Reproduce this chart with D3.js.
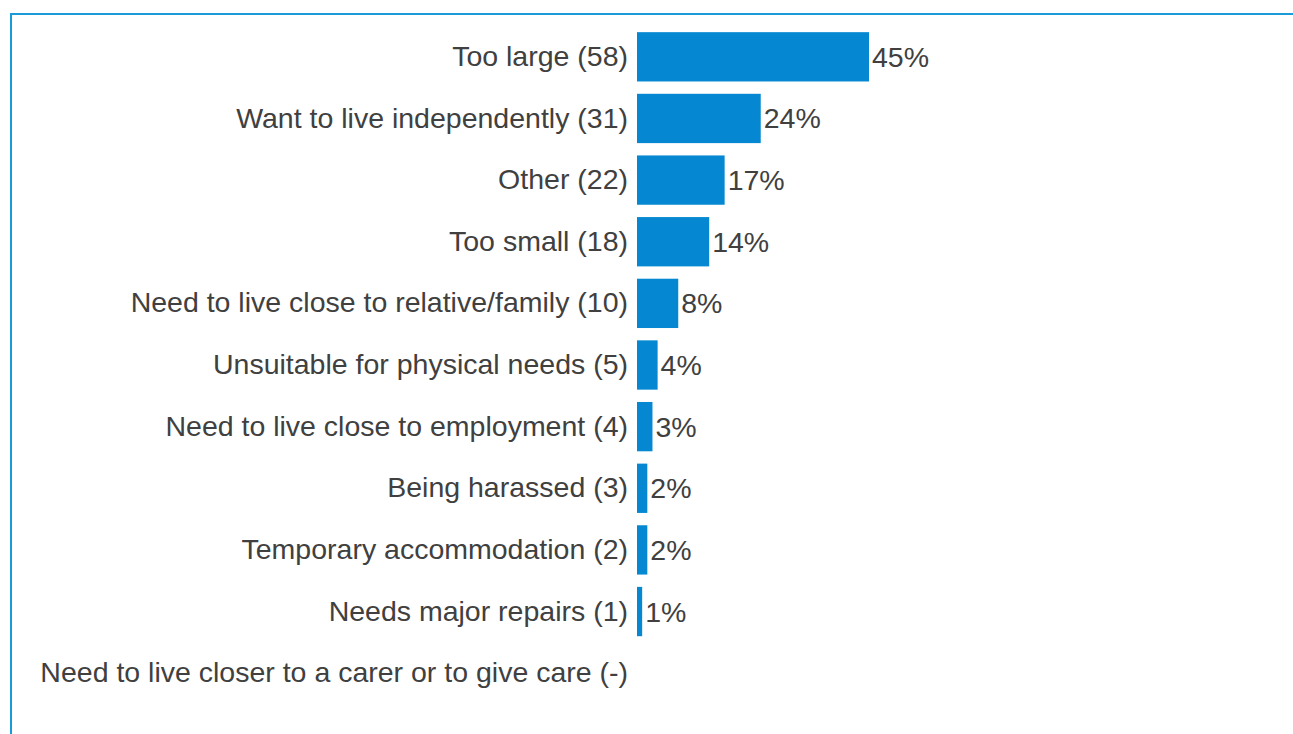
<!DOCTYPE html>
<html>
<head>
<meta charset="utf-8">
<script src="https://cdn.jsdelivr.net/npm/d3@7"></script>
<style>
  html, body { margin: 0; padding: 0; background: #ffffff; }
  svg { display: block; }
  svg text { font-family: "Liberation Sans", Arimo, Arial, Helvetica, sans-serif; }
</style>
</head>
<body>
<svg id="chart" width="1293" height="734"></svg>
<script>
// Reasons for wanting to move, with respondent counts in the labels
const categories = [
  "Too large (58)",
  "Want to live independently (31)",
  "Other (22)",
  "Too small (18)",
  "Need to live close to relative/family (10)",
  "Unsuitable for physical needs (5)",
  "Need to live close to employment (4)",
  "Being harassed (3)",
  "Temporary accommodation (2)",
  "Needs major repairs (1)",
  "Need to live closer to a carer or to give care (-)"
];
// Share of respondents (%); null where there were no responses
const percentages = [45, 24, 17, 14, 8, 4, 3, 2, 2, 1, null];

const rows = categories.map((c, i) => ({ category: c, value: percentages[i] }));

const svg = d3.select("#chart");
const W = 1293, H = 734;
const fontSize = 28.5;

// Frame around the chart area
svg.append("path")
  .attr("d", `M11,${H} L11,14 L${W},14`)
  .attr("fill", "none")
  .attr("stroke", "#1a9ad6")
  .attr("stroke-width", 2);

const x0 = 637;
const x = d3.scaleLinear()
  .domain([0, d3.max(percentages)])
  .range([x0, x0 + 232]);

const y = d3.scaleBand()
  .domain(categories)
  .range([26, 704])
  .paddingInner(0.2)
  .paddingOuter(0.1);

// Category axis on the left, without line or ticks
const yAxis = d3.axisLeft(y).tickSize(0).tickPadding(9);
const gy = svg.append("g")
  .attr("transform", `translate(${x0},0)`)
  .call(yAxis);
gy.select(".domain").remove();
gy.attr("font-family", null).attr("font-size", null);
gy.selectAll("text")
  .attr("font-size", fontSize)
  .attr("fill", "#404040");

const bars = rows.filter(d => d.value != null);

svg.append("g")
  .selectAll("rect")
  .data(bars)
  .join("rect")
  .attr("x", x(0))
  .attr("y", d => y(d.category))
  .attr("width", d => x(d.value) - x(0))
  .attr("height", y.bandwidth())
  .attr("fill", "#0588d1");

svg.append("g")
  .selectAll("text")
  .data(bars)
  .join("text")
  .attr("x", d => x(d.value) + 3)
  .attr("y", d => y(d.category) + y.bandwidth() / 2)
  .attr("dy", "0.35em")
  .attr("font-size", fontSize)
  .attr("fill", "#404040")
  .text(d => d.value + "%");
</script>
</body>
</html>
